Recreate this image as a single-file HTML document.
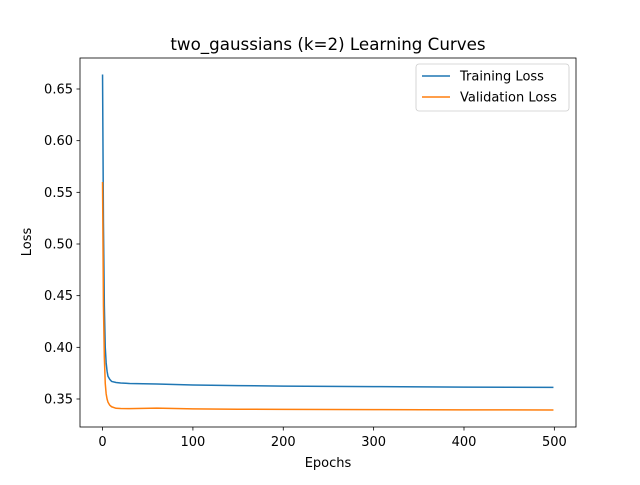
<!DOCTYPE html>
<html><head><meta charset="utf-8"><style>
body{margin:0;background:#fff}
svg text{font-family:"DejaVu Sans","Liberation Sans",sans-serif;fill:#000}
</style></head><body>
<svg id="chart" width="640" height="480">
<rect width="640" height="480" fill="#fff"/>
<text x="328" y="50" font-size="16.7" text-anchor="middle">two_gaussians (k=2) Learning Curves</text>
<g id="plot"></g>
<rect x="80" y="58" width="496" height="369" fill="none" stroke="#000" stroke-width="0.8"/>
<text x="328" y="467" font-size="13" text-anchor="middle">Epochs</text>
<text transform="translate(31,242) rotate(-90)" font-size="13" text-anchor="middle">Loss</text>
<g>
<rect x="416" y="64" width="153" height="47" rx="3" fill="#fff" stroke="#ccc" stroke-width="0.8"/>
<line x1="422" y1="76" x2="450" y2="76" stroke="#1f77b4" stroke-width="1.5"/>
<text x="460" y="80.5" font-size="13">Training Loss</text>
<line x1="422" y1="97" x2="450" y2="97" stroke="#ff7f0e" stroke-width="1.5"/>
<text x="460" y="101.5" font-size="13">Validation Loss</text>
</g>
</svg>
<script>
const epochs=[0,1,2,3,4,5,6,8,10,15,20,30,60,100,150,200,300,400,499];
const trainLoss=[0.664,0.52,0.44,0.40,0.385,0.377,0.372,0.369,0.367,0.366,0.3655,0.365,0.3645,0.3635,0.363,0.3625,0.362,0.3615,0.3612];
const valLoss=[0.56,0.44,0.39,0.365,0.355,0.35,0.347,0.344,0.3425,0.341,0.3408,0.3407,0.3412,0.3405,0.3401,0.3399,0.3397,0.3395,0.3394];
const xTicks=[0,100,200,300,400,500];
const yTicks=[0.35,0.40,0.45,0.50,0.55,0.60,0.65];
const X0=80,X1=576,Y0=427,Y1=58,xmin=-24.95,xmax=523.95,ymin=0.3229,ymax=0.680;
const sx=v=>X0+(v-xmin)/(xmax-xmin)*(X1-X0);
const sy=v=>Y0-(v-ymin)/(ymax-ymin)*(Y0-Y1);
const NS="http://www.w3.org/2000/svg";
const g=document.getElementById('plot');
function mk(t,a){const e=document.createElementNS(NS,t);for(const k in a)e.setAttribute(k,a[k]);g.appendChild(e);return e;}
xTicks.forEach(t=>{
 const l=mk('line',{x1:sx(t),x2:sx(t),y1:427,y2:430.5,stroke:'#000','stroke-width':0.8});
 
 
 const s=mk('text',{x:sx(t),y:446,'font-size':13,'text-anchor':'middle'});s.textContent=t;
 
 
});
yTicks.forEach(t=>{
 const l=mk('line',{x1:76.5,x2:80,y1:sy(t),y2:sy(t),stroke:'#000','stroke-width':0.8});
 
 
 const s=mk('text',{x:73,y:sy(t)+4.5,'font-size':13,'text-anchor':'end'});s.textContent=t.toFixed(2);
 
 
});
function line(vals,color,name){
 const p=mk('polyline',{points:epochs.map((e,i)=>sx(e)+','+sy(vals[i])).join(' '),fill:'none',stroke:color,'stroke-width':1.5,'stroke-linejoin':'round'});
 
 
}
line(trainLoss,'#1f77b4','training-loss-line');
line(valLoss,'#ff7f0e','validation-loss-line');
</script>
</body></html>
